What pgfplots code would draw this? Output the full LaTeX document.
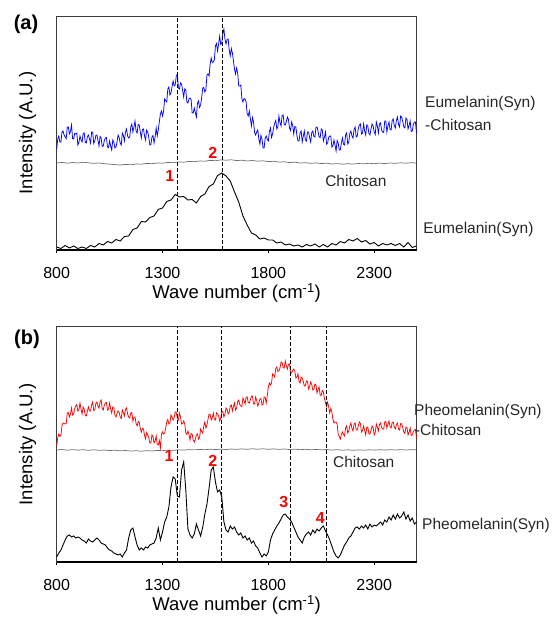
\documentclass[border=0pt]{standalone}
\usepackage{pgfplots}
\pgfplotsset{compat=1.18}
\usepackage{fontspec}
\setmainfont{Liberation Sans}

\definecolor{chitogray}{RGB}{110,110,110}
\definecolor{axisgray}{RGB}{60,60,60}

\pgfplotsset{
  panel/.style={
    scale only axis, width=359.8pt,
    xmin=800, xmax=2500, ymin=0,
    xtick={800,1300,1800,2300}, ytick=\empty,
    xtick pos=bottom, tick align=outside, major tick length=3pt,
    tick style={black, line width=0.8pt},
    axis line style={draw=axisgray, line width=0.8pt},
    clip=false,
    /pgf/number format/assume math mode=true,
    /pgf/number format/1000 sep={},
    xticklabel style={font=\fontsize{16}{19}\selectfont, anchor=center, yshift=-20pt},
    xlabel={Wave number (cm\textsuperscript{-1})},
    ylabel={Intensity (A.U.)},
    xlabel style={font=\fontsize{18.5}{22}\selectfont, at={(axis description cs:0.5,0)}, anchor=center, yshift=-43pt},
    ylabel style={font=\fontsize{18.5}{22}\selectfont, at={(axis description cs:0,0.5)}, anchor=center, yshift=29pt},
  },
}
\tikzset{
  vline/.style={black, line width=1.3pt, dash pattern=on 4pt off 2pt},
  peak/.style={red, font=\bfseries\fontsize{16}{19}\selectfont},
  side/.style={anchor=west, inner sep=0pt, font=\fontsize{15.5}{18}\selectfont, text=black!85},
}

\begin{document}
\begin{tikzpicture}
\path[use as bounding box] (0,0) rectangle (556pt,617pt);

% ---------- (a) eumelanin ----------
\begin{axis}[panel, height=234pt, ymax=234, at={(56.7pt,367pt)}, anchor=south west]
  \addplot[blue, line width=0.75pt] coordinates {
    (800,101) (805,111) (810,114) (815,108) (820,108) (825,118) (830,119) (835,115) (840,113) (845,111.5) (850,123) (855,123) (860,116) (865,118.5) (870,125) (875,111.5) (880,111) (885,116.5) (890,116) (895,117)
    (900,105) (905,107.5) (910,114) (915,110) (920,108) (925,116.5) (930,117) (935,107.5) (940,107) (945,113.5) (950,115) (955,111) (960,107) (965,118) (970,118) (975,106.5) (980,109) (985,114.5) (990,115) (995,109.5)
    (1000,104) (1005,113.5) (1010,112) (1015,103.5) (1020,104) (1025,109.5) (1030,112) (1035,112.5) (1040,103) (1045,102.5) (1050,109) (1055,104) (1060,100) (1065,110) (1070,108) (1075,102) (1080,103) (1085,108) (1090,115) (1095,112.5)
    (1100,107) (1105,105) (1110,117) (1115,114.5) (1120,109) (1125,118) (1130,121) (1135,114) (1140,112) (1145,113) (1150,123) (1155,126) (1160,118) (1165,123) (1170,129) (1175,119) (1180,117) (1185,125.5) (1190,125) (1195,118)
    (1200,112) (1205,120.5) (1210,121) (1215,114) (1220,110) (1225,120) (1230,118) (1235,113) (1240,105) (1245,105.5) (1250,113) (1255,114.5) (1260,107) (1265,113) (1270,122) (1275,114) (1280,120) (1285,128.5) (1290,136) (1295,139)
    (1300,134) (1305,139) (1310,151) (1315,149.5) (1320,148) (1325,161) (1330,163) (1335,155) (1340,157) (1345,163.5) (1350,169) (1355,164) (1360,165) (1365,174) (1370,176) (1375,162) (1380,161) (1385,167) (1390,166) (1395,159.5)
    (1400,153) (1405,161) (1410,160) (1415,148) (1420,147) (1425,151) (1430,152) (1435,150.5) (1440,137) (1445,137) (1450,142) (1455,137.5) (1460,133) (1465,146.5) (1470,149) (1475,142.5) (1480,145) (1485,152.5) (1490,162) (1495,162.5)
    (1500,158) (1505,160.5) (1510,175) (1515,176) (1520,174) (1525,186) (1530,192) (1535,187.5) (1540,188) (1545,190.5) (1550,204) (1555,206.5) (1560,199) (1565,206) (1570,214) (1575,205.5) (1580,207) (1585,216.5) (1590,221) (1595,210.5)
    (1600,206) (1605,210.5) (1610,211) (1615,200) (1620,194) (1625,201.5) (1630,197) (1635,189.5) (1640,181) (1645,176) (1650,182) (1655,177) (1660,164) (1665,164) (1670,165) (1675,151) (1680,148) (1685,151.5) (1690,151) (1695,148)
    (1700,136) (1705,134) (1710,139) (1715,131.5) (1720,124) (1725,132.5) (1730,128) (1735,117.5) (1740,115) (1745,118) (1750,120) (1755,111) (1760,106) (1765,114.5) (1770,111) (1775,102) (1780,102) (1785,112) (1790,114) (1795,110.5)
    (1800,109) (1805,118.5) (1810,122) (1815,112.5) (1820,116) (1825,122.5) (1830,127) (1835,129.5) (1840,121) (1845,123.5) (1850,134) (1855,127.5) (1860,124) (1865,134.5) (1870,135) (1875,125.5) (1880,125) (1885,128.5) (1890,133) (1895,130.5)
    (1900,122) (1905,119.5) (1910,128) (1915,124.5) (1920,116) (1925,123.5) (1930,123) (1935,114.5) (1940,109) (1945,109) (1950,117) (1955,119) (1960,108) (1965,114) (1970,119) (1975,110) (1980,109) (1985,118) (1990,118) (1995,112.5)
    (2000,108) (2005,117.5) (2010,119) (2015,113.5) (2020,113) (2025,122.5) (2030,123) (2035,118.5) (2040,113) (2045,112.5) (2050,121) (2055,120) (2060,109) (2065,113) (2070,118) (2075,106) (2080,107) (2085,112.5) (2090,114) (2095,114)
    (2100,103) (2105,104) (2110,110) (2115,105) (2120,99) (2125,109.5) (2130,107) (2135,100) (2140,100) (2145,107) (2150,112) (2155,106) (2160,105) (2165,115) (2170,117) (2175,106) (2180,108) (2185,116.5) (2190,119) (2195,114)
    (2200,112) (2205,120.5) (2210,123) (2215,113) (2220,114) (2225,121.5) (2230,125) (2235,126) (2240,116) (2245,117) (2250,126) (2255,119) (2260,115) (2265,125) (2270,124) (2275,116.5) (2280,115) (2285,121) (2290,126) (2295,124)
    (2300,118) (2305,115.5) (2310,128) (2315,124) (2320,117) (2325,126) (2330,127) (2335,120) (2340,118) (2345,117.5) (2350,129) (2355,129) (2360,118) (2365,124) (2370,128) (2375,120.5) (2380,120) (2385,129.5) (2390,131) (2395,124.5)
    (2400,122) (2405,129.5) (2410,133) (2415,125.5) (2420,123) (2425,134) (2430,133) (2435,128.5) (2440,123) (2445,122) (2450,132) (2455,130.5) (2460,121) (2465,124.5) (2470,129) (2475,118.5) (2480,119) (2485,125.5) (2490,128) (2495,128)
    (2500,117)};
  \addplot[chitogray, line width=0.7pt] coordinates {
    (800,87) (825,87.6) (850,86.8) (875,87.5) (900,87) (925,87.7) (950,87.2) (975,86.6) (1000,87) (1025,86.3)
    (1050,85.9) (1075,85.4) (1100,85) (1125,85.6) (1150,85.2) (1175,86) (1200,85.8) (1225,86.6) (1250,86.3) (1275,87)
    (1300,86.8) (1325,87.6) (1350,87.3) (1375,88) (1400,87.8) (1425,88.6) (1450,88.3) (1475,89) (1500,88.8) (1525,89.6)
    (1550,89.3) (1575,90.1) (1600,89.8) (1625,90.2) (1650,89.4) (1675,89.8) (1700,89) (1725,89.5) (1750,88.8) (1775,89.2)
    (1800,88.4) (1825,88.7) (1850,87.9) (1875,88.2) (1900,87.4) (1925,87.8) (1950,87) (1975,87.3) (2000,86.7) (2025,87.1)
    (2050,86.4) (2075,86.8) (2100,86) (2125,86.4) (2150,85.8) (2175,86.3) (2200,85.9) (2225,86.5) (2250,86.1) (2275,86.7)
    (2300,86.3) (2325,86.9) (2350,86.4) (2375,87) (2400,86.6) (2425,87.2) (2450,86.8) (2475,87.3) (2500,86.9)};
  \addplot[black, line width=0.9pt] coordinates {
    (800,3) (820,1.5) (840,4.5) (860,2) (880,4) (900,1.5) (920,3) (940,1.5) (960,4.5) (980,3)
    (1000,6.5) (1020,5) (1040,8.5) (1060,7) (1080,10.5) (1100,9) (1120,13.5) (1140,14) (1160,20.5) (1180,22)
    (1200,28.5) (1220,28) (1240,32.5) (1260,34) (1280,40.5) (1300,42) (1320,48.5) (1340,50) (1360,55.5) (1380,53)
    (1400,53.5) (1420,50) (1440,50.5) (1460,47) (1480,53.5) (1500,56) (1520,63.5) (1540,66) (1560,74.5) (1580,77)
    (1600,74) (1620,69) (1640,58) (1660,48) (1680,34) (1700,25) (1720,17) (1740,15) (1760,11) (1780,12)
    (1800,10) (1820,10) (1840,7) (1860,8) (1880,5) (1900,6) (1920,4) (1940,5) (1960,3) (1980,5.5)
    (2000,4) (2020,6) (2040,3) (2060,5.5) (2080,3) (2100,6.5) (2120,5) (2140,8.5) (2160,7) (2180,10.5)
    (2200,9) (2220,11.5) (2240,8) (2260,9.5) (2280,6) (2300,7.5) (2320,4) (2340,6.5) (2360,5) (2380,6.5)
    (2400,4.5) (2420,6.5) (2440,3) (2460,7.5) (2480,2.5) (2500,4)};
  \draw[vline] (axis cs:1370,0) -- (axis cs:1370,234);
  \draw[vline] (axis cs:1585,0) -- (axis cs:1585,234);
  \draw[black, line width=2pt] (rel axis cs:0,0) -- (rel axis cs:1,0);
  \node[peak] at (axis cs:1334,74) {1};
  \node[peak] at (axis cs:1538,97) {2};
  \node[side] at (axis cs:2540,146) {Eumelanin(Syn)};
  \node[side] at (axis cs:2540,125) {-Chitosan};
  \node[side] at (axis cs:2068,69) {Chitosan};
  \node[side] at (axis cs:2531,21) {Eumelanin(Syn)};
\end{axis}

% ---------- (b) pheomelanin ----------
\begin{axis}[panel, height=236pt, ymax=236, at={(56.7pt,55pt)}, anchor=south west]
  \addplot[red, line width=0.75pt] coordinates {
    (800,116) (805,124.5) (810,128) (815,125.5) (820,127) (825,136.5) (830,139) (835,138.5) (840,138) (845,138.5) (850,149) (855,149.5) (860,145) (865,148) (870,154) (875,147) (880,148) (885,153.5) (890,156) (895,157.5)
    (900,151) (905,152) (910,159) (915,153) (920,148) (925,155) (930,153) (935,146.5) (940,146) (945,151) (950,155) (955,151) (960,151) (965,157) (970,160) (975,151.5) (980,152) (985,158.5) (990,160) (995,156)
    (1000,154) (1005,160) (1010,162) (1015,153.5) (1020,152) (1025,157) (1030,159) (1035,159.5) (1040,152) (1045,153) (1050,159) (1055,153) (1060,149) (1065,155) (1070,154) (1075,147) (1080,145) (1085,148.5) (1090,151) (1095,149.5)
    (1100,145) (1105,143.5) (1110,152) (1115,149.5) (1120,146) (1125,152.5) (1130,154) (1135,148) (1140,145) (1145,144) (1150,149) (1155,149.5) (1160,141) (1165,144.5) (1170,145) (1175,138.5) (1180,136) (1185,140.5) (1190,140) (1195,133.5)
    (1200,130) (1205,133.5) (1210,133) (1215,126.5) (1220,123) (1225,129.5) (1230,127) (1235,124.5) (1240,119) (1245,119) (1250,127) (1255,125.5) (1260,119) (1265,121) (1270,126) (1275,117.5) (1280,117) (1285,121.5) (1290,114) (1295,128)
    (1300,130) (1305,128) (1310,129) (1315,134) (1320,140) (1325,142.5) (1330,138) (1335,139) (1340,147) (1345,145) (1350,142) (1355,144.5) (1360,150) (1365,149.5) (1370,144) (1375,142) (1380,149) (1385,145) (1390,138) (1395,138.5)
    (1400,141) (1405,138.5) (1410,129) (1415,127.5) (1420,131) (1425,127.5) (1430,122) (1435,128.5) (1440,128) (1445,122) (1450,120) (1455,123) (1460,127) (1465,128) (1470,123) (1475,124.5) (1480,133) (1485,130.5) (1490,129) (1495,136)
    (1500,140) (1505,134) (1510,137) (1515,143) (1520,148) (1525,147.5) (1530,142) (1535,144) (1540,149) (1545,142) (1550,142) (1555,149) (1560,148) (1565,146) (1570,141) (1575,144) (1580,150) (1585,150.5) (1590,145) (1595,148)
    (1600,154) (1605,152.5) (1610,148) (1615,149.5) (1620,156) (1625,157) (1630,151) (1635,155.5) (1640,159) (1645,152) (1650,154) (1655,160.5) (1660,162) (1665,157.5) (1670,156) (1675,155.5) (1680,164) (1685,161.5) (1690,158) (1695,165)
    (1700,165) (1705,159.5) (1710,159) (1715,162) (1720,166) (1725,165.5) (1730,158) (1735,158) (1740,165) (1745,161.5) (1750,156) (1755,159) (1760,163) (1765,163.5) (1770,157) (1775,157.5) (1780,165) (1785,164.5) (1790,159) (1795,166.5)
    (1800,175) (1805,179) (1810,177) (1815,179) (1820,188) (1825,187) (1830,185) (1835,193.5) (1840,195) (1845,190.5) (1850,191) (1855,194) (1860,200) (1865,199.5) (1870,194) (1875,194) (1880,201) (1885,196.5) (1890,193) (1895,197.5)
    (1900,198) (1905,189.5) (1910,189) (1915,191.5) (1920,193) (1925,191) (1930,184) (1935,185) (1940,188) (1945,180.5) (1950,179) (1955,185) (1960,184) (1965,180.5) (1970,176) (1975,176.5) (1980,181) (1985,180.5) (1990,173) (1995,175.5)
    (2000,180) (2005,177.5) (2010,172) (2015,172.5) (2020,178) (2025,177) (2030,169) (2035,172.5) (2040,175) (2045,166.5) (2050,167) (2055,171.5) (2060,170) (2065,163.5) (2070,159) (2075,155.5) (2080,160) (2085,155.5) (2090,149) (2095,153.5)
    (2100,150) (2105,143) (2110,139) (2115,140) (2120,140) (2125,138) (2130,128) (2135,125.5) (2140,123) (2145,127.5) (2150,130) (2155,127.5) (2160,126) (2165,134) (2170,136) (2175,129) (2180,131) (2185,136) (2190,139) (2195,133.5)
    (2200,131) (2205,138) (2210,139) (2215,132) (2220,132) (2225,136) (2230,140) (2235,138.5) (2240,130) (2245,131.5) (2250,136) (2255,131.5) (2260,127) (2265,134.5) (2270,135) (2275,128) (2280,128) (2285,131.5) (2290,136) (2295,134.5)
    (2300,127) (2305,129.5) (2310,138) (2315,135) (2320,131) (2325,137.5) (2330,139) (2335,134.5) (2340,133) (2345,133) (2350,140) (2355,140.5) (2360,134) (2365,138) (2370,141) (2375,135) (2380,134) (2385,139.5) (2390,140) (2395,135)
    (2400,133) (2405,137.5) (2410,139) (2415,133) (2420,132) (2425,138.5) (2430,138) (2435,134.5) (2440,130) (2445,128.5) (2450,135) (2455,134.5) (2460,127) (2465,130) (2470,134) (2475,126.5) (2480,127) (2485,130.5) (2490,132) (2495,132.5)
    (2500,124)};
  \addplot[chitogray, line width=0.7pt] coordinates {
    (800,112) (825,112.5) (850,111.8) (875,112.4) (900,111.9) (925,112.3) (950,111.7) (975,112.2) (1000,111.6) (1025,112)
    (1050,111.4) (1075,111.8) (1100,111.2) (1125,111.5) (1150,110.9) (1175,111.3) (1200,110.8) (1225,111.4) (1250,111) (1275,111.6)
    (1300,111.3) (1325,111.9) (1350,111.6) (1375,112.2) (1400,111.9) (1425,112.4) (1450,112.1) (1475,112.6) (1500,112.3) (1525,112.8)
    (1550,112.4) (1575,112.9) (1600,112.5) (1625,113) (1650,112.6) (1675,113.1) (1700,112.7) (1725,113.2) (1750,112.8) (1775,113.2)
    (1800,112.7) (1825,113.1) (1850,112.6) (1875,113) (1900,112.5) (1925,112.9) (1950,112.3) (1975,112.7) (2000,112.2) (2025,112.6)
    (2050,112.1) (2075,112.5) (2100,111.9) (2125,112.3) (2150,111.8) (2175,112.2) (2200,111.7) (2225,112.1) (2250,111.8) (2275,112.2)
    (2300,111.9) (2325,112.3) (2350,111.9) (2375,112.3) (2400,112) (2425,112.4) (2450,112) (2475,112.4) (2500,112.1)};
  \addplot[black, line width=0.9pt] coordinates {
    (800,5) (810,9) (820,12) (830,17) (840,22) (850,26) (860,27) (870,25) (880,26) (890,24)
    (900,25) (910,24) (920,22) (930,21) (940,19) (950,23) (960,21) (970,20) (980,22) (990,24)
    (1000,22) (1010,19) (1020,18) (1030,17) (1040,14) (1050,12) (1060,11) (1070,9) (1080,8) (1090,7)
    (1100,8) (1110,5) (1120,9) (1130,12) (1140,24) (1150,32) (1160,34) (1170,25) (1180,17) (1190,12)
    (1200,14) (1210,12) (1220,15) (1230,14) (1240,17) (1250,18) (1260,19) (1270,24) (1280,34) (1290,22)
    (1300,30) (1310,40) (1320,45) (1330,55) (1340,75) (1350,85) (1360,83) (1370,66) (1380,65) (1390,92)
    (1400,100) (1410,72) (1420,33) (1430,27) (1440,24) (1450,28) (1460,38) (1470,32) (1480,26) (1490,35)
    (1500,48) (1510,58) (1520,74) (1530,92) (1540,95) (1550,80) (1560,70) (1570,72) (1580,65) (1590,40)
    (1600,32) (1610,30) (1620,36) (1630,33) (1640,35) (1650,30) (1660,27) (1670,29) (1680,24) (1690,26)
    (1700,22) (1710,24) (1720,19) (1730,21) (1740,16) (1750,14) (1760,9) (1770,5) (1780,8) (1790,6)
    (1800,10) (1810,22) (1820,28) (1830,32) (1840,36) (1850,39) (1860,43) (1870,47) (1880,48) (1890,45)
    (1900,43) (1910,40) (1920,35) (1930,30) (1940,25) (1950,22) (1960,19) (1970,25) (1980,28) (1990,30)
    (2000,27) (2010,32) (2020,29) (2030,33) (2040,31) (2050,34) (2060,36) (2070,31) (2080,27) (2090,22)
    (2100,16) (2110,10) (2120,6) (2130,4) (2140,7) (2150,12) (2160,17) (2170,20) (2180,24) (2190,26)
    (2200,30) (2210,34) (2220,35) (2230,33) (2240,36) (2250,34) (2260,37) (2270,33) (2280,38) (2290,35)
    (2300,37) (2310,36) (2320,38) (2330,40) (2340,37) (2350,42) (2360,40) (2370,45) (2380,42) (2390,47)
    (2400,43) (2410,48) (2420,44) (2430,46) (2440,50) (2450,43) (2460,47) (2470,41) (2480,44) (2490,38)
    (2500,40)};
  \draw[vline] (axis cs:1370,0) -- (axis cs:1370,236);
  \draw[vline] (axis cs:1580,0) -- (axis cs:1580,236);
  \draw[vline] (axis cs:1905,0) -- (axis cs:1905,236);
  \draw[vline] (axis cs:2075,0) -- (axis cs:2075,236);
  \draw[black, line width=2pt] (rel axis cs:0,0) -- (rel axis cs:1,0);
  \node[peak] at (axis cs:1331,106) {1};
  \node[peak] at (axis cs:1538,101) {2};
  \node[peak] at (axis cs:1873,60) {3};
  \node[peak] at (axis cs:2046,44) {4};
  \node[side] at (axis cs:2488,151) {Pheomelanin(Syn)};
  \node[side] at (axis cs:2492,132) {-Chitosan};
  \node[side] at (axis cs:2105,100) {Chitosan};
  \node[side] at (axis cs:2526,37) {Pheomelanin(Syn)};
\end{axis}

\node[font=\bfseries\fontsize{20}{24}\selectfont] at (26pt,593pt) {(a)};
\node[font=\bfseries\fontsize{20}{24}\selectfont] at (27pt,278pt) {(b)};
\end{tikzpicture}
\end{document}
